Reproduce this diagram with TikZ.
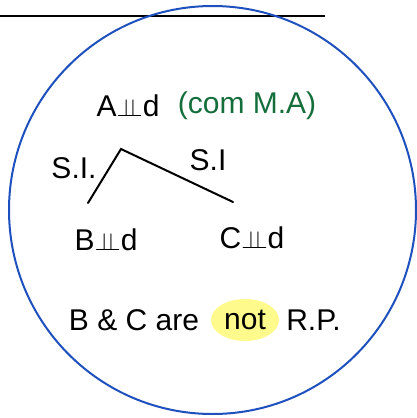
\documentclass[tikz,border=0pt]{standalone}
\usepackage{fontspec}
\setmainfont{Liberation Sans}
\usetikzlibrary{positioning}
\definecolor{inkgreen}{RGB}{20,110,60}
\definecolor{ringblue}{RGB}{30,80,190}
\definecolor{marker}{RGB}{255,250,140}
\newcommand{\indep}{\ensuremath{\perp\!\!\!\perp}}

\begin{document}
\begin{tikzpicture}[
  x=1pt, y=-1pt,
  hand/.style={font=\fontsize{30}{32}\selectfont, inner sep=1pt},
  note/.style={hand, text=inkgreen},
  stroke/.style={line width=2pt, line cap=round}
]
  \useasboundingbox (0,0) rectangle (417,418);
  \draw[line width=1.8pt] (0,16) -- (325,16);
  \draw[ringblue, line width=2pt] (212.5,210) ellipse (203.5 and 204);

  \node[hand] (A) at (128,106) {A\indep d};
  \node[note, right=16pt of A] (Anote) {(com M.A)};

  \coordinate (bl) at (88,203);
  \coordinate (apex) at (121,149);
  \coordinate (cr) at (233,202);
  \draw[stroke] (bl) -- (apex) -- (cr);
  \node[hand] (SIl) at (74,168) {S.I.};
  \node[hand] (SIr) at (208,160) {S.I};

  \node[hand] (B) at (106,240) {B\indep d};
  \node[hand] (C) at (252,238) {C\indep d};

  \fill[marker] (245,320) ellipse (34 and 21);
  \node[hand] (stmt) at (134,320) {B \& C are};
  \node[hand] (neg) at (245,320) {not};
  \node[hand, right=18pt of neg] (rp) {R.P.};
\end{tikzpicture}
\end{document}
